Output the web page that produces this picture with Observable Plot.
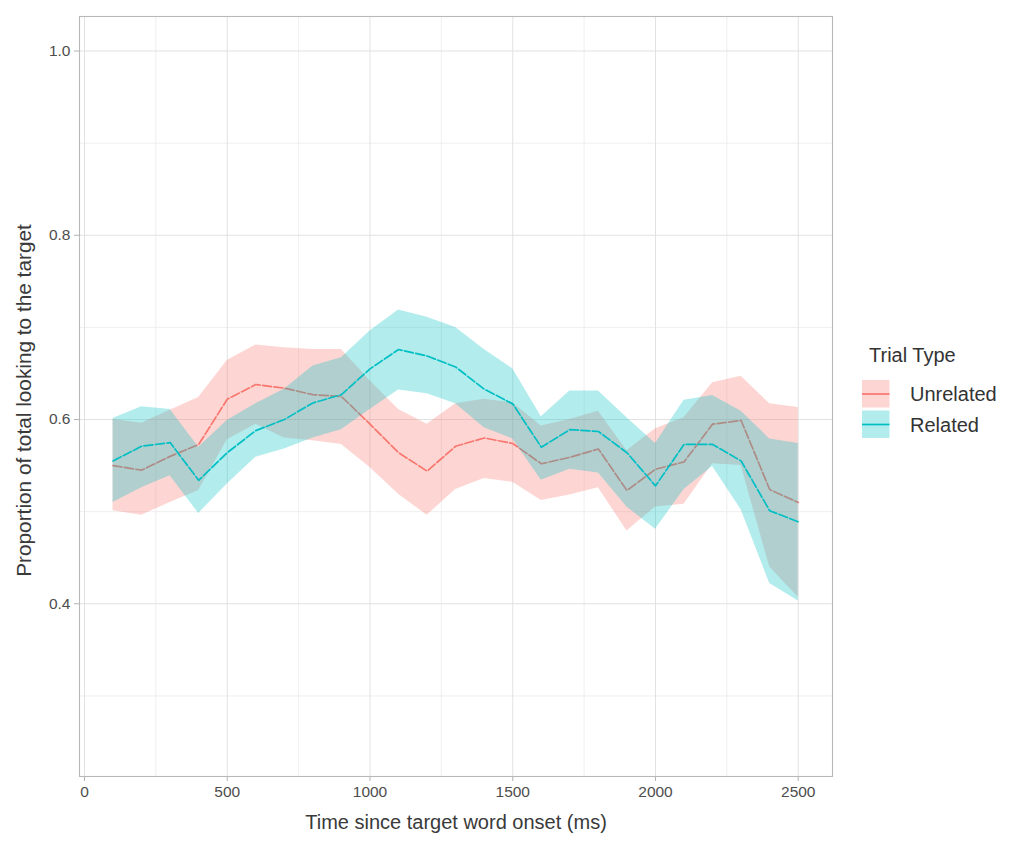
<!DOCTYPE html>
<html>
<head>
<meta charset="utf-8">
<script src="https://cdn.jsdelivr.net/npm/d3@7"></script>
<script src="https://cdn.jsdelivr.net/npm/@observablehq/plot@0.6"></script>
<style>
  html, body { margin: 0; padding: 0; background: #fff; }
  #chart { width: 1014px; height: 850px; }
  #chart svg { font-family: "Liberation Sans", Arial, sans-serif; }
  #chart svg [aria-label$="-axis tick"] path, #chart svg .tick line { stroke: #b3b3b3; }
  #chart svg [aria-label$="-axis tick label"] text, #chart svg .tick text { fill: #4d4d4d; }
</style>
</head>
<body>
<div id="chart"></div>
<script>
// ---- Data ----
const time = [100, 200, 300, 400, 500, 600, 700, 800, 900, 1000, 1100, 1200, 1300,
              1400, 1500, 1600, 1700, 1800, 1900, 2000, 2100, 2200, 2300, 2400, 2500];

const unrelatedMean  = [0.550, 0.545, 0.560, 0.573, 0.622, 0.638, 0.634, 0.627, 0.625, 0.595, 0.564, 0.544, 0.571,
                        0.580, 0.574, 0.552, 0.559, 0.568, 0.523, 0.546, 0.554, 0.595, 0.599, 0.524, 0.510];
const unrelatedLower = [0.501, 0.496, 0.510, 0.523, 0.578, 0.595, 0.580, 0.577, 0.573, 0.548, 0.519, 0.496, 0.524,
                        0.536, 0.532, 0.512, 0.518, 0.526, 0.479, 0.505, 0.508, 0.552, 0.550, 0.440, 0.407];
const unrelatedUpper = [0.600, 0.596, 0.610, 0.624, 0.664, 0.681, 0.678, 0.676, 0.676, 0.642, 0.611, 0.595, 0.617,
                        0.622, 0.618, 0.593, 0.600, 0.609, 0.566, 0.590, 0.602, 0.640, 0.647, 0.617, 0.613];

const relatedMean  = [0.555, 0.571, 0.575, 0.534, 0.564, 0.588, 0.600, 0.618, 0.627, 0.655, 0.676, 0.669, 0.657,
                      0.633, 0.617, 0.570, 0.589, 0.587, 0.564, 0.528, 0.573, 0.573, 0.555, 0.501, 0.489];
const relatedLower = [0.510, 0.526, 0.539, 0.498, 0.530, 0.559, 0.568, 0.580, 0.589, 0.611, 0.632, 0.628, 0.617,
                      0.591, 0.579, 0.534, 0.546, 0.542, 0.505, 0.481, 0.524, 0.549, 0.502, 0.422, 0.403];
const relatedUpper = [0.601, 0.614, 0.611, 0.570, 0.599, 0.617, 0.633, 0.658, 0.667, 0.696, 0.719, 0.711, 0.700,
                      0.676, 0.655, 0.603, 0.631, 0.631, 0.602, 0.574, 0.621, 0.626, 0.609, 0.579, 0.574];

const seriesNames = ["Unrelated", "Related"];
const seriesColors = ["#F8766D", "#00BFC4"];

const xTicks = [0, 500, 1000, 1500, 2000, 2500];
const xMinorTicks = [250, 750, 1250, 1750, 2250];
const yTicks = [0.4, 0.6, 0.8, 1.0];
const yMinorTicks = [0.3, 0.5, 0.7, 0.9];

const xTitle = "Time since target word onset (ms)";
const yTitle = "Proportion of total looking to the target";
const legendTitle = "Trial Type";

// ---- Build tables ----
const unrelated = time.map((t, i) => ({time: t, mean: unrelatedMean[i], lower: unrelatedLower[i], upper: unrelatedUpper[i]}));
const related = time.map((t, i) => ({time: t, mean: relatedMean[i], lower: relatedLower[i], upper: relatedUpper[i]}));

const FONT = '"Liberation Sans", Arial, sans-serif';
const dash = "9,2.5";

const plot = Plot.plot({
  width: 1014,
  height: 850,
  marginLeft: 79,
  marginRight: 182,
  marginTop: 16,
  marginBottom: 74,
  style: {fontFamily: FONT, fontSize: "15.5px", color: "#4d4d4d", background: "#fff"},
  x: {domain: [-17.5, 2620], ticks: xTicks, tickSize: 5, tickPadding: 4, tickFormat: d3.format("d"), label: null},
  y: {domain: [0.2125, 1.0375], ticks: yTicks, tickSize: 5, tickPadding: 4, tickFormat: d3.format(".1f"), label: null},
  marks: [
    Plot.ruleX(xMinorTicks, {stroke: "#ebebeb", strokeWidth: 0.8}),
    Plot.ruleY(yMinorTicks, {stroke: "#ebebeb", strokeWidth: 0.8}),
    Plot.ruleX(xTicks, {stroke: "#e2e2e2", strokeWidth: 1}),
    Plot.ruleY(yTicks, {stroke: "#e2e2e2", strokeWidth: 1}),
    Plot.areaY(unrelated, {x: "time", y1: "lower", y2: "upper", fill: seriesColors[0], fillOpacity: 0.3}),
    Plot.line(unrelated, {x: "time", y: "mean", stroke: seriesColors[0], strokeWidth: 1.7, strokeDasharray: dash}),
    Plot.areaY(related, {x: "time", y1: "lower", y2: "upper", fill: seriesColors[1], fillOpacity: 0.3}),
    Plot.line(related, {x: "time", y: "mean", stroke: seriesColors[1], strokeWidth: 1.7, strokeDasharray: dash}),
    Plot.frame({stroke: "#b8b8b8", strokeWidth: 1.1}),
    Plot.text([xTitle], {frameAnchor: "bottom", dy: 46.5, fontSize: 20, fill: "#3a3a3a", lineAnchor: "middle", textAnchor: "middle"}),
    Plot.text([yTitle], {frameAnchor: "left", dx: -55, dy: 4, rotate: -90, fontSize: 20.8, fill: "#3a3a3a", lineAnchor: "middle", textAnchor: "middle"})
  ]
});

// ---- Legend (outside the panel, drawn into the same SVG) ----
const svg = d3.select(plot);
const lg = svg.append("g").attr("font-family", FONT).attr("text-anchor", "start");
lg.append("text").attr("x", 869).attr("y", 361.5).attr("font-size", 20).attr("fill", "#333").text(legendTitle);
const keyY = [380, 410.5];
seriesNames.forEach((name, i) => {
  const y0 = keyY[i];
  lg.append("rect").attr("x", 862).attr("y", y0).attr("width", 27.5).attr("height", 27.5)
    .attr("fill", seriesColors[i]).attr("fill-opacity", 0.3);
  lg.append("line").attr("x1", 862).attr("x2", 889.5).attr("y1", y0 + 14).attr("y2", y0 + 14)
    .attr("stroke", seriesColors[i]).attr("stroke-width", 1.7);
  lg.append("text").attr("x", 910).attr("y", y0 + 21).attr("font-size", 20).attr("fill", "#333").text(name);
});

document.getElementById("chart").appendChild(plot);
</script>
</body>
</html>
